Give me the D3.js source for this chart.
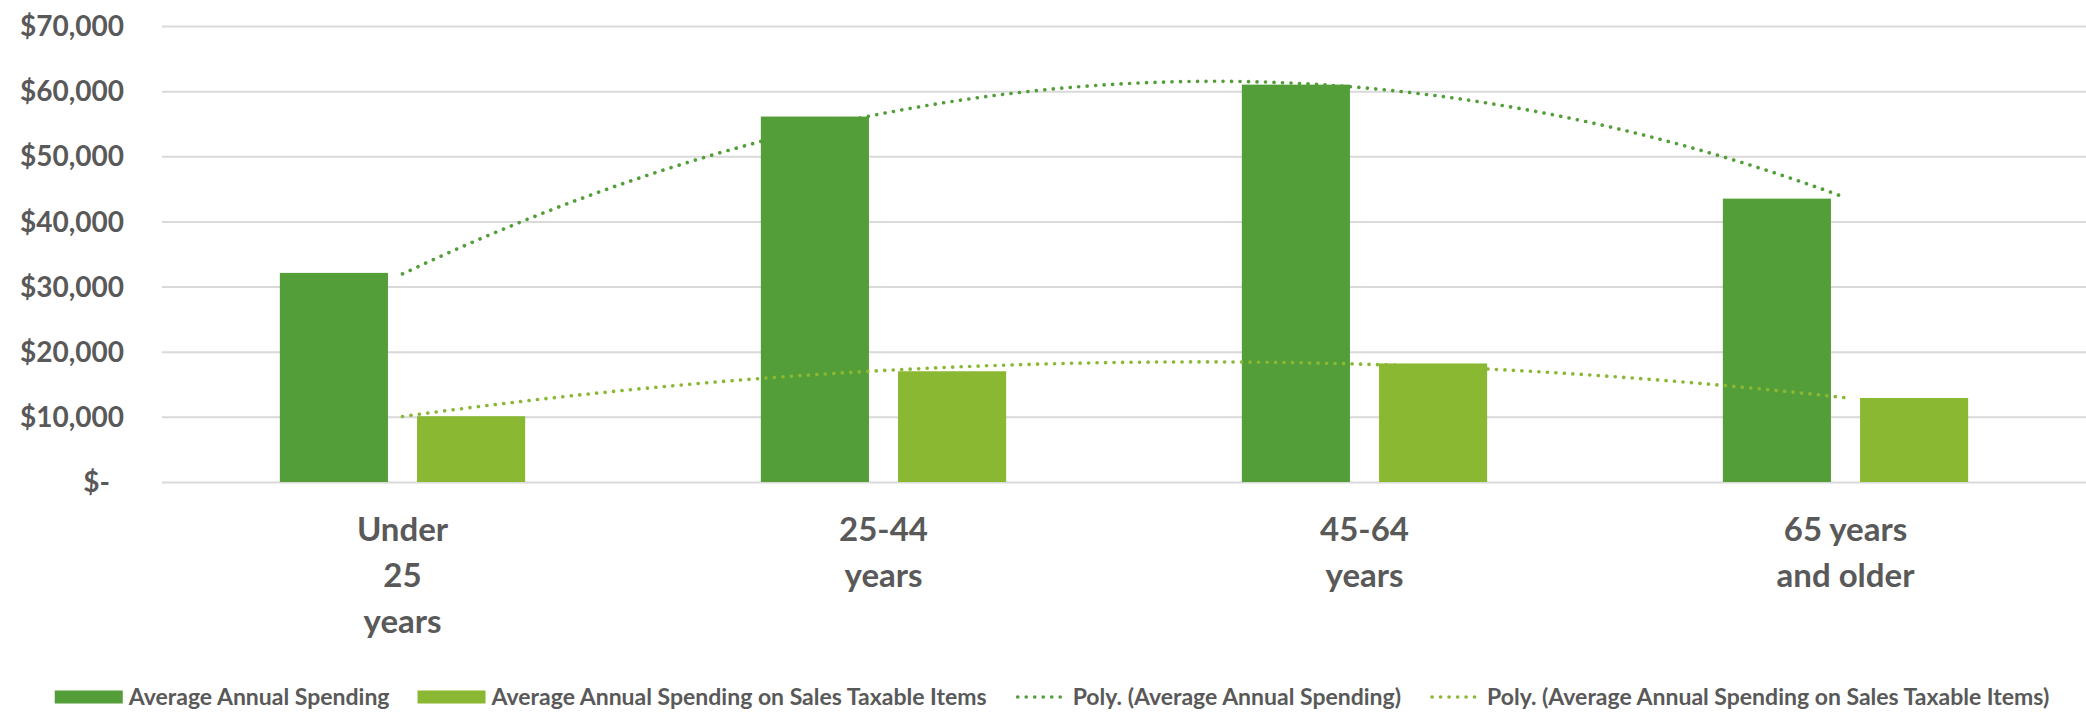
<!DOCTYPE html>
<html>
<head>
<meta charset="utf-8">
<title>Average annual spending by age</title>
<script src="https://cdn.jsdelivr.net/npm/d3@7"></script>
<style>
  body { margin: 0; background: #fff; }
  text { font-family: Lato, "Open Sans", sans-serif; font-weight: bold; fill: #595959; }
  .grid line { stroke: #d9d9d9; stroke-width: 2; }
  .grid .domain { display: none; }
  .trend { fill: none; stroke-width: 3.6; stroke-linecap: round; stroke-dasharray: 0.1 8.4; }
</style>
</head>
<body>
<div id="chart"></div>
<script>
// chart data
var categories = ["Under 25 years", "25-44 years", "45-64 years", "65 years and older"];
var categoryLines = [["Under", "25", "years"], ["25-44", "years"], ["45-64", "years"], ["65 years", "and older"]];
var seriesNames = ["Average Annual Spending", "Average Annual Spending on Sales Taxable Items"];
var annualSpending = [32100, 56100, 61000, 43500];
var taxableSpending = [10100, 17000, 18200, 12900];
var yTicks = [0, 10000, 20000, 30000, 40000, 50000, 60000, 70000];
var colors = ["#549e39", "#8ab833"];

var width = 2086,
    height = 714,
    margin = {top: 26, right: 0, bottom: 232, left: 162};

var svg = d3.select("#chart").append("svg")
    .attr("width", width)
    .attr("height", height);

var y = d3.scaleLinear()
    .domain([0, 70000])
    .range([height - margin.bottom, margin.top]);

var x0 = d3.scaleBand()
    .domain(categories)
    .range([margin.left, width - margin.right]);

var x1 = d3.scaleBand()
    .domain(seriesNames)
    .range([x0.bandwidth() * 0.245, x0.bandwidth() * 0.755])
    .paddingInner(0.212);

// gridlines
svg.append("g")
    .attr("class", "grid")
    .attr("transform", "translate(" + margin.left + ",0)")
    .call(d3.axisLeft(y).tickValues(yTicks)
      .tickSize(-(width - margin.left - margin.right))
      .tickFormat(""));

// y labels, accounting style
var fmt = d3.format(",");
svg.append("g").selectAll("text")
    .data(yTicks)
    .enter().append("text")
    .attr("x", function(d) { return d === 0 ? margin.left - 52 : margin.left - 38; })
    .attr("y", function(d) { return y(d); })
    .attr("dy", "0.36em")
    .attr("text-anchor", "end")
    .style("font-size", "28px")
    .text(function(d) { return d === 0 ? "$-" : "$" + fmt(d); });

// bars
var rows = categories.map(function(c, i) {
  return {cat: c, values: [annualSpending[i], taxableSpending[i]]};
});

var groups = svg.append("g").selectAll("g")
    .data(rows)
    .enter().append("g")
    .attr("transform", function(d) { return "translate(" + x0(d.cat) + ",0)"; });

groups.selectAll("rect")
    .data(function(d) {
      return d.values.map(function(v, k) { return {key: seriesNames[k], value: v, k: k}; });
    })
    .enter().append("rect")
    .attr("x", function(d) { return x1(d.key); })
    .attr("width", x1.bandwidth())
    .attr("y", function(d) { return y(d.value); })
    .attr("height", function(d) { return y(0) - y(d.value); })
    .attr("fill", function(d) { return colors[d.k]; });

// polynomial (order 2) trendlines, least squares over x = 1..n
function polyfit2(vals) {
  var n = vals.length, xs = d3.range(1, n + 1);
  var xm = d3.mean(xs);
  var p1 = xs.map(function(x) { return x - xm; });
  var c = d3.mean(p1, function(p) { return p * p; });
  var p2 = p1.map(function(p) { return p * p - c; });
  var a0 = d3.mean(vals);
  var a1 = d3.sum(vals, function(v, i) { return v * p1[i]; }) / d3.sum(p1, function(p) { return p * p; });
  var a2 = d3.sum(vals, function(v, i) { return v * p2[i]; }) / d3.sum(p2, function(p) { return p * p; });
  return function(x) { var t = x - xm; return a0 + a1 * t + a2 * (t * t - c); };
}

var xt = d3.scaleLinear()
    .domain([1, categories.length])
    .range([x0(categories[0]) + x0.bandwidth() / 2,
            x0(categories[categories.length - 1]) + x0.bandwidth() / 2]);

var line = d3.line()
    .x(function(d) { return xt(d[0]); })
    .y(function(d) { return y(d[1]); });

[annualSpending, taxableSpending].forEach(function(vals, k) {
  var f = polyfit2(vals);
  var pts = d3.range(1, categories.length + 0.0001, 0.05).map(function(t) { return [t, f(t)]; });
  svg.append("path")
      .datum(pts)
      .attr("class", "trend")
      .attr("stroke", colors[k])
      .attr("d", line);
});

// x labels
var xl = svg.append("g").selectAll("text")
    .data(categories)
    .enter().append("text")
    .attr("text-anchor", "middle")
    .attr("transform", function(d) {
      return "translate(" + (x0(d) + x0.bandwidth() / 2) + "," + 541 + ")";
    })
    .style("font-size", "33px");

xl.selectAll("tspan")
    .data(function(d, i) { return categoryLines[i]; })
    .enter().append("tspan")
    .attr("x", 0)
    .attr("y", function(d, i) { return i * 46; })
    .text(function(d) { return d; });

// legend
var legendItems = [
  {label: seriesNames[0], color: colors[0], type: "bar"},
  {label: seriesNames[1], color: colors[1], type: "bar"},
  {label: "Poly. (" + seriesNames[0] + ")", color: colors[0], type: "line"},
  {label: "Poly. (" + seriesNames[1] + ")", color: colors[1], type: "line"}
];

var legend = svg.append("g");
var lx = 0, ly = 697;
legendItems.forEach(function(it, i) {
  var g = legend.append("g");
  if (it.type === "bar") {
    g.append("rect")
      .attr("x", lx).attr("y", ly - 6.5)
      .attr("width", 68).attr("height", 13)
      .attr("fill", it.color);
    lx += 74;
  } else {
    g.append("path")
      .attr("class", "trend")
      .attr("stroke", it.color)
      .attr("stroke-width", 3)
      .attr("stroke-dasharray", "0.1 6.5")
      .attr("d", "M" + (lx + 3) + "," + ly + "H" + (lx + 48));
    lx += 58;
  }
  var t = g.append("text")
    .attr("x", lx).attr("y", ly)
    .attr("dy", "0.36em")
    .style("font-size", "23px")
    .text(it.label);
  lx += t.node().getComputedTextLength() + 28;
});
lx -= 28;
legend.attr("transform", "translate(" + ((width - lx) / 2 + 9) + ",0)");
</script>
</body>
</html>
